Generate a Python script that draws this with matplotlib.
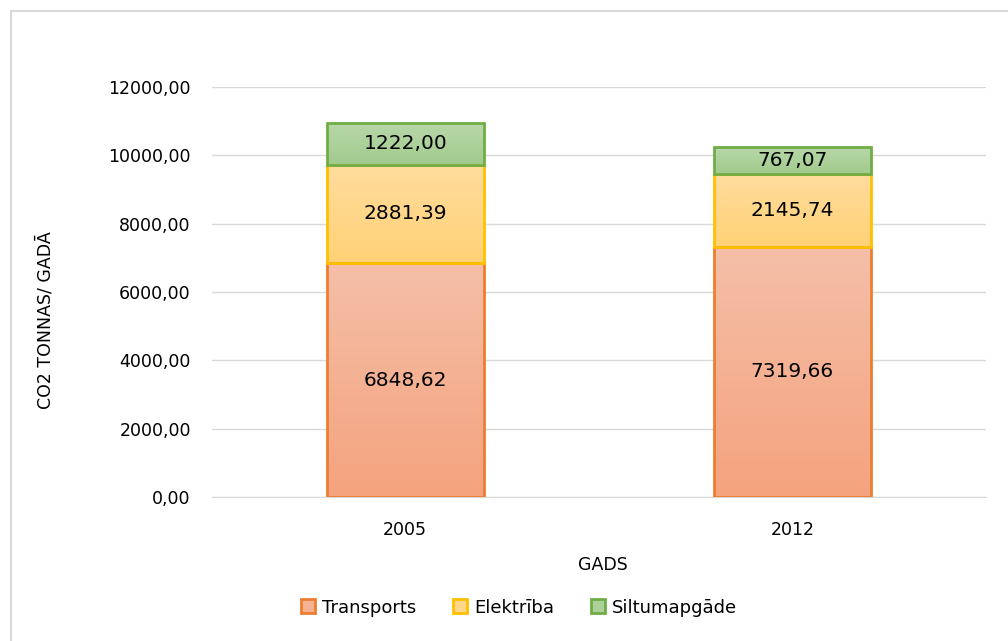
import matplotlib.pyplot as plt
import numpy as np
from matplotlib.colors import LinearSegmentedColormap
from matplotlib.lines import Line2D

# data
years = ['2005', '2012']
transports = [6848.62, 7319.66]
elektriba = [2881.39, 2145.74]
siltums = [1222.00, 767.07]

series = [
    ('Transports', transports, '#F4BFA8', '#F5A37E', '#ED7D31'),
    ('Elektrība', elektriba, '#FFDC9E', '#FFD276', '#FFC000'),
    ('Siltumapgāde', siltums, '#B7D8A9', '#A2CA8D', '#70AD47'),
]

plt.rcParams['font.family'] = ['DejaVu Sans']

fig = plt.figure(figsize=(10.08, 6.41), dpi=100)
ax = fig.add_axes([0.210, 0.2246, 0.768, 0.6396])

x = np.arange(len(years))
width = 0.405
bottom = np.zeros(len(years))
handles = []
for name, vals, ctop, cbot, edge in series:
    vals = np.array(vals)
    bars = ax.bar(x, vals, width, bottom=bottom, facecolor='none',
                  edgecolor=edge, linewidth=2, zorder=3)
    cmap = LinearSegmentedColormap.from_list(name, [cbot, ctop])
    grad = np.linspace(0, 1, 100).reshape(-1, 1)
    for b, v, b0 in zip(bars, vals, bottom):
        im = ax.imshow(grad, cmap=cmap, aspect='auto', origin='lower',
                       extent=[b.get_x(), b.get_x() + b.get_width(), b0, b0 + v],
                       zorder=2)
        im.set_clip_path(b)
        ax.text(b.get_x() + b.get_width() / 2, b0 + v / 2,
                f'{v:.2f}'.replace('.', ','), ha='center', va='center',
                fontsize=14.5, color='#000000', zorder=4)
    handles.append(plt.Rectangle((0, 0), 1, 1, facecolor=cmap(0.5),
                                 edgecolor=edge, linewidth=2))
    bottom = bottom + vals

ax.set_xlim(-0.5, 1.5)
ax.set_ylim(0, 12000)
ax.set_yticks(np.arange(0, 12001, 2000))
ax.set_yticklabels([f'{v:.2f}'.replace('.', ',') for v in np.arange(0, 12001, 2000)])
ax.set_xticks(x)
ax.set_xticklabels(years)
ax.tick_params(axis='y', length=0, labelsize=12.5, labelcolor='#000000', pad=15)
ax.tick_params(axis='x', length=0, labelsize=12.5, labelcolor='#000000', pad=17)
ax.grid(axis='y', color='#D9D9D9', linewidth=1, zorder=0)
for s in ['top', 'right', 'left']:
    ax.spines[s].set_visible(False)
ax.spines['bottom'].set_color('#D9D9D9')

fig.text(0.598, 0.118, 'GADS', ha='center', va='center', fontsize=12.5)
fig.text(0.045, 0.50, 'CO2 TONNAS/ GADĀ', rotation=90, ha='center',
         va='center', fontsize=12.5)

fig.legend(handles, [s[0] for s in series], loc='center',
           bbox_to_anchor=(0.515, 0.052), ncol=3, frameon=False, fontsize=13,
           handlelength=0.8, handleheight=0.8, handletextpad=0.4,
           columnspacing=2.0)

# chart border
fig.add_artist(Line2D([11 / 1008, 11 / 1008], [0, 1 - 11 / 641],
                      transform=fig.transFigure, color='#D9D9D9', linewidth=1.5))
fig.add_artist(Line2D([11 / 1008, 1], [1 - 11 / 641, 1 - 11 / 641],
                      transform=fig.transFigure, color='#D9D9D9', linewidth=1.5))

fig.savefig('out.png', dpi=100)
